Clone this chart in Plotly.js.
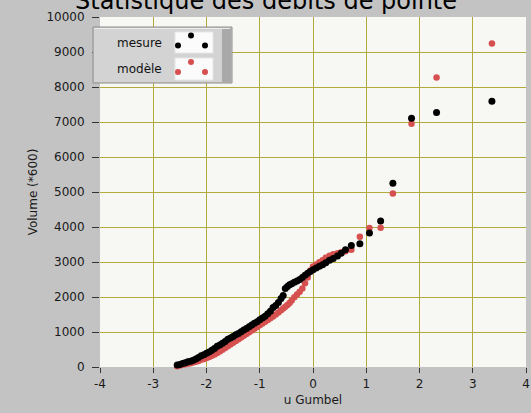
<!DOCTYPE html>
<html>
<head>
<meta charset="utf-8">
<script src="https://cdn.plot.ly/plotly-3.0.1.min.js"></script>
<style>
  html, body { margin: 0; padding: 0; background: #c3c3c3; }
  #chart { width: 531px; height: 413px; }
</style>
</head>
<body>
<div id="chart"></div>
<script>
// Reduced Gumbel variate for each ranked value (shared by both series)
const uGumbel = [
  -2.55, -2.50, -2.45, -2.40, -2.35, -2.30, -2.25, -2.20, -2.15, -2.10,
  -2.05, -2.00, -1.95, -1.90, -1.85, -1.80, -1.75, -1.70, -1.65, -1.60,
  -1.55, -1.50, -1.45, -1.40, -1.35, -1.30, -1.25, -1.20, -1.15, -1.10,
  -1.05, -1.00, -0.95, -0.90, -0.85, -0.80, -0.75, -0.70, -0.65, -0.60,
  -0.56, -0.52, -0.48, -0.44, -0.40, -0.35, -0.30, -0.25, -0.20, -0.15,
  -0.10, -0.05, 0.00, 0.06, 0.12, 0.18, 0.24, 0.31, 0.38, 0.46,
  0.53, 0.61, 0.72, 0.88, 1.06, 1.27, 1.50, 1.85, 2.32, 3.36
];

// Measured peak volumes (*600)
const mesure = [
  55, 75, 100, 125, 150, 165, 190, 230, 270, 320,
  350, 390, 430, 480, 530, 590, 630, 680, 730, 790,
  830, 870, 920, 960, 1010, 1060, 1100, 1150, 1200, 1250,
  1290, 1350, 1400, 1450, 1520, 1590, 1700, 1760, 1840, 1960,
  2040, 2240, 2300, 2350, 2380, 2420, 2460, 2500, 2560, 2620,
  2680, 2730, 2780, 2830, 2880, 2920, 2980, 3050, 3100, 3170,
  3250, 3350, 3470, 3520, 3830, 4170, 5250, 7110, 7270, 7590
];

// Model peak volumes (*600)
const modele = [
  25, 45, 65, 80, 95, 110, 130, 150, 175, 205,
  230, 255, 285, 320, 360, 400, 440, 490, 540, 590,
  640, 690, 740, 790, 840, 890, 940, 990, 1040, 1090,
  1140, 1190, 1240, 1290, 1340, 1390, 1440, 1500, 1560, 1620,
  1670, 1720, 1770, 1830, 1900, 1990, 2070, 2150, 2240, 2390,
  2560, 2760, 2870, 2930, 2990, 3050, 3120, 3180, 3220, 3250,
  3280, 3310, 3350, 3720, 3970, 3980, 4960, 6950, 8270, 9240
];

const xTicks = [-4, -3, -2, -1, 0, 1, 2, 3, 4];
const yTicks = [0, 1000, 2000, 3000, 4000, 5000, 6000, 7000, 8000, 9000, 10000];

const seriesNames = ['mesure', 'modèle'];
const colMesure = '#000000';
const colModele = '#d6504f';

const traces = [
  {
    x: uGumbel, y: modele, name: seriesNames[1], type: 'scatter', mode: 'markers',
    marker: { color: colModele, size: 6.5, line: { width: 0 } }, cliponaxis: false
  },
  {
    x: uGumbel, y: mesure, name: seriesNames[0], type: 'scatter', mode: 'markers',
    marker: { color: colMesure, size: 7, line: { width: 0 } }, cliponaxis: false
  }
];

// Plot area in pixels, used to lay out the framed legend box in paper units
const L = 100, R = 5, T = 17, B = 46, W = 531, H = 413;
const pw = W - L - R, ph = H - T - B;
const px = v => (v - L) / pw;
const py = v => (H - B - v) / ph;

const shapes = [];
const annotations = [];

// legend panel
shapes.push({ type: 'rect', xref: 'paper', yref: 'paper',
  x0: px(93), x1: px(232), y0: py(83), y1: py(27),
  fillcolor: '#c9c9c9', line: { color: '#8e8e8e', width: 1 }, layer: 'above' });
shapes.push({ type: 'rect', xref: 'paper', yref: 'paper',
  x0: px(94), x1: px(222), y0: py(82), y1: py(28),
  fillcolor: '#d3d3d3', line: { width: 0 }, layer: 'above' });
shapes.push({ type: 'rect', xref: 'paper', yref: 'paper',
  x0: px(222), x1: px(231), y0: py(82), y1: py(28),
  fillcolor: '#a9a9a9', line: { width: 0 }, layer: 'above' });
shapes.push({ type: 'line', xref: 'paper', yref: 'paper',
  x0: px(94), x1: px(230), y0: py(28.5), y1: py(28.5),
  line: { color: '#ececec', width: 1 }, layer: 'above' });

const rows = [
  { label: seriesNames[0], color: colMesure, top: 32, bottom: 53 },
  { label: seriesNames[1], color: colModele, top: 58, bottom: 80 }
];
rows.forEach(r => {
  shapes.push({ type: 'rect', xref: 'paper', yref: 'paper',
    x0: px(175), x1: px(213), y0: py(r.bottom), y1: py(r.top),
    fillcolor: '#fbfbfb', line: { color: '#e6e6e6', width: 1 }, layer: 'above' });
  const mid = (r.top + r.bottom) / 2;
  [[191, mid - 7], [178, mid + 3], [205, mid + 3]].forEach(([cx, cy]) => {
    shapes.push({ type: 'circle', xref: 'paper', yref: 'paper',
      x0: px(cx - 3), x1: px(cx + 3), y0: py(cy + 3), y1: py(cy - 3),
      fillcolor: r.color, line: { width: 0 }, layer: 'above' });
  });
  annotations.push({ xref: 'paper', yref: 'paper', x: px(164), y: py(mid),
    xanchor: 'right', yanchor: 'middle', showarrow: false, text: r.label,
    font: { family: 'DejaVu Sans', size: 12, color: '#111' } });
});

// chart title, sitting at the very top edge
annotations.push({ xref: 'paper', yref: 'paper', x: px(266), y: 1,
  xanchor: 'center', yanchor: 'bottom', yshift: 0, showarrow: false,
  text: 'Statistique des débits de pointe',
  font: { family: 'DejaVu Sans', size: 24, color: '#000' } });

const layout = {
  width: W, height: H,
  margin: { l: L, r: R, t: T, b: B, pad: 0 },
  paper_bgcolor: '#c3c3c3',
  plot_bgcolor: '#f7f7f4',
  showlegend: false,
  font: { family: 'DejaVu Sans', size: 12, color: '#1a1a1a' },
  xaxis: {
    range: [-4, 4], tickvals: xTicks, ticktext: xTicks.map(String),
    showgrid: true, gridcolor: '#b3aa3c', gridwidth: 1, zeroline: false,
    showline: false, ticks: 'outside', ticklen: 5, tickcolor: '#333',
    ticklabelstandoff: 1,
    tickfont: { family: 'DejaVu Sans', size: 12, color: '#1a1a1a' },
    title: { text: 'u Gumbel', standoff: 5, font: { family: 'DejaVu Sans', size: 12, color: '#1a1a1a' } },
    automargin: false
  },
  yaxis: {
    range: [0, 10000], tickvals: yTicks, ticktext: yTicks.map(String),
    showgrid: true, gridcolor: '#b3aa3c', gridwidth: 1, zeroline: false,
    showline: false, ticks: 'outside', ticklen: 7, tickcolor: '#333',
    ticklabelstandoff: 5,
    tickfont: { family: 'DejaVu Sans', size: 12, color: '#1a1a1a' },
    title: { text: 'Volume (*600)', standoff: 6, font: { family: 'DejaVu Sans', size: 12, color: '#1a1a1a' } },
    automargin: false
  },
  shapes: shapes,
  annotations: annotations
};

Plotly.newPlot('chart', traces, layout, { displayModeBar: false, staticPlot: true });
</script>
</body>
</html>
